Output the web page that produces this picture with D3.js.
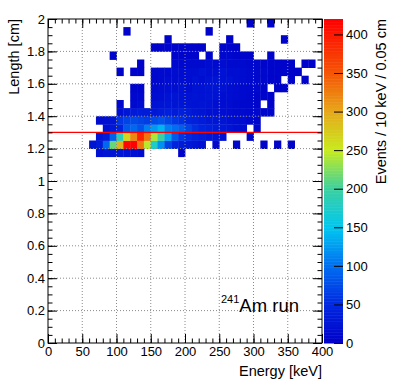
<!DOCTYPE html>
<html><head><meta charset="utf-8">
<script src="https://cdnjs.cloudflare.com/ajax/libs/d3/7.8.5/d3.min.js"></script>
<style>
body{margin:0;background:#fff}
svg{display:block}
text{font-family:"Liberation Sans",Arial,Helvetica,sans-serif;fill:#000}
</style>
</head><body>
<svg id="c" width="403" height="391"></svg>
<script>
// ---------------- DATA ----------------
const xBinWidth = 10;      // keV
const yBinWidth = 0.05;    // cm
const xBinStarts = [0,10,20,30,40,50,60,70,80,90,100,110,120,130,140,150,160,170,180,190,
                    200,210,220,230,240,250,260,270,280,290,300,310,320,330,340,350,360,370,380,390];
const yBinStarts = [1.15,1.20,1.25,1.30,1.35,1.40,1.45,1.50,1.55,1.60,1.65,1.70,1.75,1.80,1.85,1.90,1.95];
// counts[row][col] : row follows yBinStarts, col follows xBinStarts
const counts = [
 [0,0,0,0,0,0,0,20,25,25,30,25,20,15,0,0,0,0,0,5,0,0,0,0,0,0,0,0,0,0,0,0,0,0,0,0,0,0,0,0],
 [0,0,0,0,0,0,25,35,95,215,290,415,419,330,245,175,120,70,45,35,30,25,20,0,10,0,0,8,0,0,0,5,0,5,0,5,0,0,0,0],
 [0,0,0,0,0,0,0,25,35,90,185,265,320,390,330,240,200,130,85,60,50,40,35,30,25,20,0,0,0,8,0,0,0,0,0,0,0,0,0,0],
 [0,0,0,0,0,0,0,0,20,30,45,85,95,80,110,125,140,110,100,90,70,55,45,40,35,30,25,20,15,0,8,0,0,0,0,0,0,0,0,0],
 [0,0,0,0,0,0,0,15,20,25,60,70,75,70,65,75,80,70,60,55,45,40,35,30,28,25,20,18,15,10,6,0,0,0,0,0,0,0,0,0],
 [0,0,0,0,0,0,0,0,0,0,20,28,32,38,35,30,35,40,35,40,35,28,25,20,20,18,15,12,12,10,10,6,6,0,0,0,0,0,0,0],
 [0,0,0,0,0,0,0,0,0,0,10,0,12,15,0,22,25,28,25,28,25,22,25,22,18,15,15,12,10,10,6,0,4,0,0,0,0,0,0,0],
 [0,0,0,0,0,0,0,0,0,0,0,0,10,10,0,15,18,22,25,22,22,25,22,25,22,18,18,15,12,10,6,6,4,0,0,0,0,0,0,0],
 [0,0,0,0,0,0,0,0,0,0,0,0,6,6,0,12,15,18,18,22,18,22,22,25,25,22,18,15,12,10,10,6,0,4,4,0,0,0,0,0],
 [0,0,0,0,0,0,0,0,0,0,0,0,0,0,0,10,12,15,15,18,18,22,18,22,25,22,22,18,15,12,10,10,6,6,0,4,0,4,0,0],
 [0,0,0,0,0,0,0,0,0,0,4,0,4,4,0,10,12,12,15,15,18,18,22,18,18,22,18,18,15,12,10,10,6,6,6,4,4,0,0,0],
 [0,0,0,0,0,0,0,0,0,0,0,0,0,4,0,0,0,0,10,10,12,12,12,15,12,15,12,12,12,10,10,6,6,6,4,4,0,4,4,0],
 [0,0,0,0,0,0,0,0,0,4,0,0,0,0,0,0,0,0,6,6,6,6,0,6,0,10,10,6,6,6,0,0,4,0,0,0,0,0,0,0],
 [0,0,0,0,0,0,0,0,0,0,0,0,0,0,0,4,4,6,6,6,6,4,4,0,0,6,6,4,0,0,0,0,0,0,0,0,0,0,0,0],
 [0,0,0,0,0,0,0,0,0,0,0,0,0,0,0,0,0,4,0,0,0,0,0,0,0,0,4,0,0,0,0,0,0,0,4,0,0,0,0,0],
 [0,0,0,0,0,0,0,0,0,0,0,4,0,0,0,0,0,0,0,0,0,0,0,4,0,0,0,0,0,0,0,0,0,0,0,0,0,0,0,0],
 [0,0,0,0,0,0,0,0,0,0,0,0,0,0,0,0,0,0,0,0,0,0,0,0,0,0,0,0,0,4,0,0,4,0,0,0,0,0,0,0]
];
const xTicks = [0,50,100,150,200,250,300,350,400];
const yTicks = [0,0.2,0.4,0.6,0.8,1,1.2,1.4,1.6,1.8,2];
const zTicks = [0,50,100,150,200,250,300,350,400];
const zMax = 420;
const cutLength = 1.3;

// ---------------- LAYOUT ----------------
const L = 48, R = 322, T = 19, B = 343;
const svg = d3.select("#c");
const x = d3.scaleLinear().domain([0,400]).range([L,R]);
const y = d3.scaleLinear().domain([0,2]).range([B,T]);
const z = d3.scaleLinear().domain([0,zMax]).range([B,T]);

const palStops = [0,50,100,150,200,250,300,350,420];
const palCols  = ["#0000c8","#0028e0","#006ef0","#00c8f0","#3cd0a0","#c8eb1e","#e6a81a","#f55505","#ff0000"];
const color = d3.scaleLinear().domain(palStops).range(palCols).interpolate(d3.interpolateRgb).clamp(true);

// ---------------- CELLS ----------------
const cells = [];
counts.forEach((row, r) => row.forEach((v, c) => {
  if (v > 0) cells.push({x0: xBinStarts[c], y0: yBinStarts[r], v});
}));
svg.append("g").selectAll("rect").data(cells).join("rect")
  .attr("x", d => x(d.x0))
  .attr("y", d => y(d.y0 + yBinWidth))
  .attr("width", d => x(d.x0 + xBinWidth) - x(d.x0) + 0.4)
  .attr("height", d => y(d.y0) - y(d.y0 + yBinWidth) + 0.4)
  .attr("fill", d => color(d.v));

// ---------------- GRID ----------------
const grid = svg.append("g").attr("stroke","#8a8a8a").attr("stroke-width",1).attr("stroke-dasharray","1,2");
xTicks.filter(v => v > 0 && v < 400).forEach(v => {
  grid.append("line").attr("x1",x(v)).attr("x2",x(v)).attr("y1",B).attr("y2",T);
});
yTicks.filter(v => v > 0 && v < 2).forEach(v => {
  grid.append("line").attr("x1",L).attr("x2",R).attr("y1",y(v)).attr("y2",y(v));
});

// cut line
svg.append("line").attr("x1",L).attr("x2",R).attr("y1",y(cutLength)).attr("y2",y(cutLength))
  .attr("stroke","#ff0000").attr("stroke-width",1.3);

// ---------------- AXES ----------------
const xMinor = d3.range(0,401,10);
const yMinor = d3.range(0,41).map(i => i*0.05);
function addAxis(axis, tr) {
  const g = svg.append("g").attr("transform", tr).call(axis);
  g.select(".domain").remove();
  g.selectAll("line").attr("stroke","#000");
  return g;
}
// bottom
const gx = addAxis(d3.axisBottom(x).tickValues(xTicks).tickSizeInner(-9).tickSizeOuter(0).tickPadding(4).tickFormat(d3.format("d")), `translate(0,${B})`);
gx.selectAll("text").attr("font-size",13).attr("font-family","Liberation Sans, Arial, sans-serif");
addAxis(d3.axisBottom(x).tickValues(xMinor).tickSizeInner(-4.5).tickSizeOuter(0).tickFormat(""), `translate(0,${B})`);
// top
addAxis(d3.axisTop(x).tickValues(xTicks).tickSizeInner(-9).tickSizeOuter(0).tickFormat(""), `translate(0,${T})`);
addAxis(d3.axisTop(x).tickValues(xMinor).tickSizeInner(-4.5).tickSizeOuter(0).tickFormat(""), `translate(0,${T})`);
// left
const gy = addAxis(d3.axisLeft(y).tickValues(yTicks).tickSizeInner(-9).tickSizeOuter(0).tickPadding(3).tickFormat(d3.format("~g")), `translate(${L},0)`);
gy.selectAll("text").attr("font-size",13).attr("font-family","Liberation Sans, Arial, sans-serif");
addAxis(d3.axisLeft(y).tickValues(yMinor).tickSizeInner(-4.5).tickSizeOuter(0).tickFormat(""), `translate(${L},0)`);
// right
addAxis(d3.axisRight(y).tickValues(yTicks).tickSizeInner(-9).tickSizeOuter(0).tickFormat(""), `translate(${R},0)`);
addAxis(d3.axisRight(y).tickValues(yMinor).tickSizeInner(-4.5).tickSizeOuter(0).tickFormat(""), `translate(${R},0)`);

// frame
svg.append("rect").attr("x",L).attr("y",T).attr("width",R-L).attr("height",B-T)
  .attr("fill","none").attr("stroke","#000").attr("stroke-width",1);

// ---------------- COLOR BAR ----------------
const CL = 324, CR = 343;
const cb = svg.append("g");
const zSteps = d3.range(0, zMax, 2);
cb.selectAll("rect").data(zSteps).join("rect")
  .attr("x", CL).attr("width", CR-CL)
  .attr("y", d => z(d+2)).attr("height", d => z(d) - z(d+2) + 0.5)
  .attr("fill", d => color(d+1));
const gz = addAxis(d3.axisRight(z).tickValues(zTicks).tickSizeInner(-9).tickSizeOuter(0).tickPadding(3).tickFormat(d3.format("d")), `translate(${CR},0)`);
gz.selectAll("text").attr("font-size",13).attr("font-family","Liberation Sans, Arial, sans-serif");

// ---------------- TITLES ----------------
svg.append("text").attr("x",R).attr("y",376).attr("text-anchor","end")
  .attr("font-size",14.5).text("Energy [keV]");
svg.append("text").attr("transform",`translate(18.5,${T}) rotate(-90)`).attr("text-anchor","end")
  .attr("font-size",14.5).text("Length [cm]");
svg.append("text").attr("transform",`translate(385.5,${T}) rotate(-90)`).attr("text-anchor","end")
  .attr("font-size",14.5).text("Events / 10 keV / 0.05 cm");
const lab = svg.append("text").attr("x",221).attr("y",312).attr("font-size",18.5);
lab.append("tspan").attr("font-size",11).attr("dy",-9).text("241");
lab.append("tspan").attr("dy",9).text("Am run");
</script>
</body></html>
